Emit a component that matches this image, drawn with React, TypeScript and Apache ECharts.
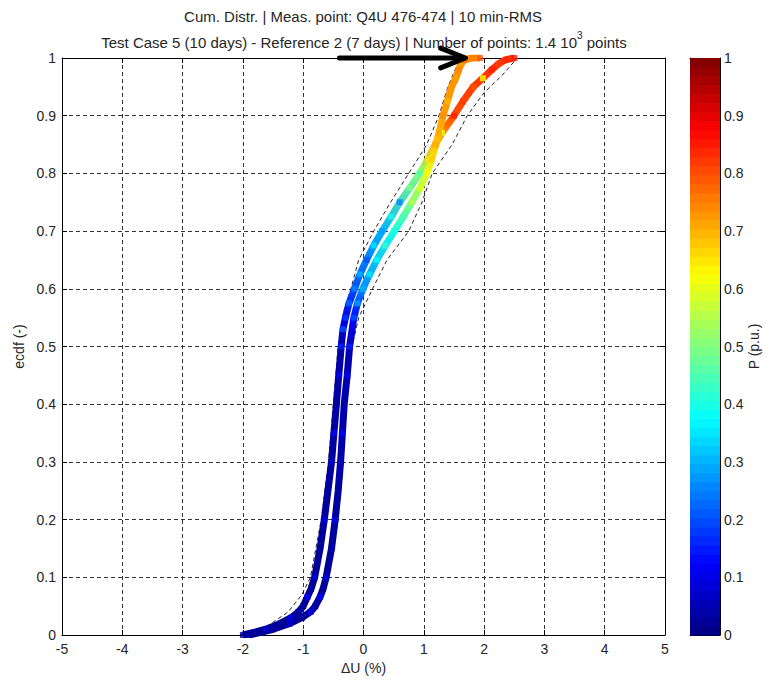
import React, { useEffect, useRef } from "react";
import * as echarts from "echarts";

const FONT = '"Liberation Sans", Arial, sans-serif';
const TXT = "#262626";

// Curve A: left branch at the bottom, ends near 2.5 at the top
const curveAX = [-2.0, -1.8, -1.62, -1.38, -1.2, -1.08, -1.0, -0.93, -0.87, -0.81, -0.72, -0.65, -0.59, -0.53, -0.49, -0.45, -0.41, -0.37, -0.34, -0.3, -0.24, -0.15, -0.06, 0.05, 0.17, 0.31, 0.46, 0.6, 0.77, 0.93, 1.07, 1.19, 1.3, 1.5, 1.65, 1.82, 1.98, 2.13, 2.24, 2.36, 2.5];
const curveAY = [0, 0.005, 0.01, 0.02, 0.03, 0.04, 0.05, 0.066, 0.08, 0.1, 0.15, 0.2, 0.25, 0.3, 0.35, 0.4, 0.45, 0.5, 0.53, 0.55, 0.575, 0.6, 0.625, 0.65, 0.675, 0.7, 0.725, 0.75, 0.775, 0.8, 0.825, 0.85, 0.87, 0.9, 0.925, 0.95, 0.965, 0.98, 0.99, 0.997, 1.0];
const curveAP = [0.02, 0.03, 0.08, 0.02, 0.1, 0.03, 0.02, 0.12, 0.03, 0.08, 0.02, 0.1, 0.03, 0.06, 0.12, 0.02, 0.1, 0.15, 0.2, 0.18, 0.22, 0.25, 0.3, 0.2, 0.35, 0.28, 0.4, 0.25, 0.5, 0.45, 0.65, 0.72, 0.6, 0.85, 0.82, 0.8, 0.62, 0.85, 0.82, 0.84, 0.86];

// Curve B: right branch at the bottom, ends near 1.9 at the top
const curveBX = [-1.9, -1.5, -1.22, -1.02, -0.88, -0.8, -0.72, -0.67, -0.62, -0.53, -0.47, -0.42, -0.38, -0.35, -0.32, -0.27, -0.23, -0.16, -0.1, -0.01, 0.1, 0.22, 0.36, 0.51, 0.66, 0.8, 0.94, 1.05, 1.13, 1.2, 1.25, 1.32, 1.39, 1.46, 1.53, 1.58, 1.62, 1.68, 1.8, 1.93];
const curveBY = [0, 0.01, 0.02, 0.03, 0.04, 0.05, 0.066, 0.08, 0.1, 0.15, 0.2, 0.25, 0.3, 0.35, 0.4, 0.45, 0.5, 0.55, 0.575, 0.6, 0.625, 0.65, 0.675, 0.7, 0.725, 0.75, 0.775, 0.8, 0.825, 0.85, 0.87, 0.9, 0.925, 0.95, 0.965, 0.98, 0.99, 0.997, 1.0, 1.0];
const curveBP = [0.02, 0.03, 0.08, 0.02, 0.1, 0.03, 0.12, 0.02, 0.08, 0.03, 0.1, 0.02, 0.06, 0.12, 0.03, 0.1, 0.15, 0.2, 0.28, 0.3, 0.35, 0.38, 0.42, 0.4, 0.45, 0.55, 0.6, 0.62, 0.68, 0.7, 0.72, 0.74, 0.7, 0.73, 0.72, 0.75, 0.72, 0.78, 0.76, 0.8];

// Colour profile along each band (ecdf level -> P)
const bandAY = [1.0, 0.9, 0.85, 0.8, 0.7, 0.6, 0.55, 0.5, 0.0];
const bandAP = [0.83, 0.8, 0.7, 0.5, 0.3, 0.2, 0.1, 0.04, 0.02];
const bandBY = [1.0, 0.9, 0.85, 0.8, 0.7, 0.6, 0.55, 0.5, 0.0];
const bandBP = [0.74, 0.72, 0.68, 0.6, 0.4, 0.26, 0.13, 0.05, 0.02];

// Dashed confidence envelopes
const envLeftX = [-2.05, -1.6, -1.25, -1.02, -0.88, -0.7, -0.58, -0.5, -0.42, -0.33, -0.21, -0.08, 0.17, 0.45, 0.75, 1.05, 1.25, 1.4, 1.6];
const envLeftY = [0, 0.015, 0.04, 0.07, 0.1, 0.2, 0.3, 0.4, 0.5, 0.56, 0.6, 0.65, 0.7, 0.75, 0.8, 0.85, 0.9, 0.95, 1.0];
const envRightX = [-1.9, -1.4, -1.0, -0.75, -0.58, -0.42, -0.34, -0.29, -0.19, -0.08, 0.15, 0.39, 0.75, 0.97, 1.14, 1.47, 1.72, 2.0, 2.3, 2.55];
const envRightY = [0, 0.01, 0.03, 0.06, 0.1, 0.2, 0.3, 0.4, 0.5, 0.55, 0.6, 0.65, 0.7, 0.75, 0.8, 0.85, 0.9, 0.94, 0.97, 1.0];

// Annotation arrow (data units)
const arrowShaftX = [-0.4, 1.66];
const arrowShaftY = [1.0, 1.0];
const arrowHeadX = [1.28, 1.69, 1.28];
const arrowHeadY = [1.017, 1.0, 0.983];

const xTicks = { min: -5, max: 5, step: 1 };
const yTicks = { min: 0, max: 1, step: 0.1 };

const TITLE1 = "Cum. Distr. | Meas. point: Q4U 476-474 | 10 min-RMS";
const TITLE2A = "Test Case 5 (10 days) - Reference 2 (7 days) | Number of points: 1.4 10";
const TITLE2SUP = "3";
const TITLE2B = " points";

function jet(t: number): string {
  const c = (v: number) => Math.round(255 * Math.max(0, Math.min(1, v)));
  return `rgb(${c(1.5 - Math.abs(4 * t - 3))},${c(1.5 - Math.abs(4 * t - 2))},${c(1.5 - Math.abs(4 * t - 1))})`;
}
const JET64 = Array.from({ length: 64 }, (_, i) => jet((i + 0.5) / 64));

const zip = (xs: number[], ys: number[], ps?: number[]) =>
  xs.map((x, i) => (ps ? [x, ys[i], ps[i]] : [x, ys[i]]));

const bandGradient = (ys: number[], ps: number[]) =>
  new echarts.graphic.LinearGradient(
    0, 0, 0, 1,
    ys.map((y, i) => ({ offset: 1 - y, color: jet(ps[i]) }))
  );

export default function App() {
  const ref = useRef<HTMLDivElement>(null);
  useEffect(() => {
    document.body.style.margin = "0";
    if (!ref.current) return;
    const chart = echarts.init(ref.current, undefined, { renderer: "svg" });

    const gridLine = { show: true, lineStyle: { color: "#333", type: [4, 3] as any, width: 1 } };
    const axLine = { show: true, onZero: false, lineStyle: { color: "#000", width: 1 } };
    const tick = { show: true, inside: true, length: 5, lineStyle: { color: "#000" } };
    const lbl = { color: TXT, fontSize: 14, fontFamily: FONT };
    const nameStyle = { color: TXT, fontSize: 14, fontFamily: FONT };

    const colorbarBins = Array.from({ length: 64 }, (_, i) => [0, i / 64]);

    const option: any = {
      animation: false,
      backgroundColor: "#fff",
      grid: [
        { left: 62, top: 58, width: 603, height: 577 },
        { left: 690, top: 58, width: 30, height: 577 },
      ],
      xAxis: [
        {
          gridIndex: 0, type: "value", min: xTicks.min, max: xTicks.max, interval: xTicks.step,
          position: "bottom", axisLine: axLine, axisTick: tick,
          axisLabel: { ...lbl, margin: 7 }, splitLine: gridLine,
          name: "ΔU (%)", nameLocation: "middle", nameGap: 23, nameTextStyle: nameStyle,
        },
        {
          gridIndex: 0, type: "value", min: xTicks.min, max: xTicks.max, interval: xTicks.step,
          position: "top", axisLine: axLine, axisTick: tick,
          axisLabel: { show: false }, splitLine: { show: false },
        },
        {
          gridIndex: 1, type: "value", min: 0, max: 1, position: "bottom",
          axisLine: axLine, axisTick: { show: false }, axisLabel: { show: false }, splitLine: { show: false },
        },
        {
          gridIndex: 1, type: "value", min: 0, max: 1, position: "top",
          axisLine: axLine, axisTick: { show: false }, axisLabel: { show: false }, splitLine: { show: false },
        },
      ],
      yAxis: [
        {
          gridIndex: 0, type: "value", min: yTicks.min, max: yTicks.max, interval: yTicks.step,
          position: "left", axisLine: axLine, axisTick: tick,
          axisLabel: { ...lbl, margin: 6 }, splitLine: gridLine,
          name: "ecdf (-)", nameLocation: "middle", nameGap: 35, nameRotate: 90, nameTextStyle: nameStyle,
        },
        {
          gridIndex: 0, type: "value", min: yTicks.min, max: yTicks.max, interval: yTicks.step,
          position: "right", axisLine: axLine, axisTick: tick,
          axisLabel: { show: false }, splitLine: { show: false },
        },
        {
          gridIndex: 1, type: "value", min: 0, max: 1, interval: 0.1,
          position: "right", axisLine: axLine, axisTick: tick,
          axisLabel: { ...lbl, margin: 4 }, splitLine: { show: false },
          name: "P (p.u.)", nameLocation: "middle", nameGap: 27, nameRotate: 90, nameTextStyle: nameStyle,
        },
        {
          gridIndex: 1, type: "value", min: 0, max: 1, interval: 0.1,
          position: "left", axisLine: axLine, axisTick: tick,
          axisLabel: { show: false }, splitLine: { show: false },
        },
      ],
      visualMap: {
        type: "continuous", show: false, min: 0, max: 1, dimension: 2,
        seriesIndex: [4, 5], inRange: { color: JET64 },
      },
      series: [
        {
          type: "line", data: zip(envLeftX, envLeftY), showSymbol: false, symbol: "none",
          lineStyle: { color: "#222", width: 1, type: [4, 3] }, z: 3, silent: true,
        },
        {
          type: "line", data: zip(envRightX, envRightY), showSymbol: false, symbol: "none",
          lineStyle: { color: "#222", width: 1, type: [4, 3] }, z: 3, silent: true,
        },
        {
          type: "line", data: zip(curveAX, curveAY), showSymbol: false, symbol: "none",
          lineStyle: { color: bandGradient(bandAY, bandAP), width: 7 }, z: 4, silent: true,
        },
        {
          type: "line", data: zip(curveBX, curveBY), showSymbol: false, symbol: "none",
          lineStyle: { color: bandGradient(bandBY, bandBP), width: 7 }, z: 4, silent: true,
        },
        {
          type: "scatter", data: zip(curveAX, curveAY, curveAP), symbol: "rect", symbolSize: 6, z: 5, silent: true,
        },
        {
          type: "scatter", data: zip(curveBX, curveBY, curveBP), symbol: "rect", symbolSize: 6, z: 5, silent: true,
        },
        {
          type: "line", data: zip(arrowShaftX, arrowShaftY), showSymbol: false, symbol: "none", clip: false,
          lineStyle: { color: "#000", width: 5, cap: "round" }, z: 10, silent: true,
        },
        {
          type: "line", data: zip(arrowHeadX, arrowHeadY), showSymbol: false, symbol: "none", clip: false,
          lineStyle: { color: "#000", width: 5, cap: "round", join: "round" }, z: 10, silent: true,
        },
        {
          type: "custom", xAxisIndex: 2, yAxisIndex: 2, data: colorbarBins, silent: true,
          renderItem: (params: any, api: any) => {
            const y0 = api.value(1);
            const p0 = api.coord([0, y0]);
            const p1 = api.coord([1, y0 + 1 / 64]);
            return {
              type: "rect",
              shape: { x: p0[0], y: p1[1], width: p1[0] - p0[0], height: p0[1] - p1[1] + 0.6 },
              style: { fill: jet(y0 + 0.5 / 64), stroke: null },
            };
          },
        },
      ],
      graphic: [
        {
          type: "text", x: 363, y: 16, z: 20,
          style: {
            text: TITLE1, fill: TXT, font: `15px ${FONT}`,
            align: "center", verticalAlign: "middle", textAlign: "center", textVerticalAlign: "middle",
          },
        },
        {
          type: "text", x: 364, y: 40, z: 20,
          style: {
            text: `{a|${TITLE2A}}{s|${TITLE2SUP}}{a|${TITLE2B}}`,
            align: "center", verticalAlign: "middle", textAlign: "center", textVerticalAlign: "middle",
            rich: {
              a: { fontSize: 15, fontFamily: FONT, fill: TXT, color: TXT, lineHeight: 20, verticalAlign: "bottom" },
              s: { fontSize: 10, fontFamily: FONT, fill: TXT, color: TXT, lineHeight: 11, verticalAlign: "top" },
            },
          },
        },
      ],
    };
    chart.setOption(option);
    return () => chart.dispose();
  }, []);
  return <div ref={ref} style={{ width: 765, height: 680 }} />;
}
